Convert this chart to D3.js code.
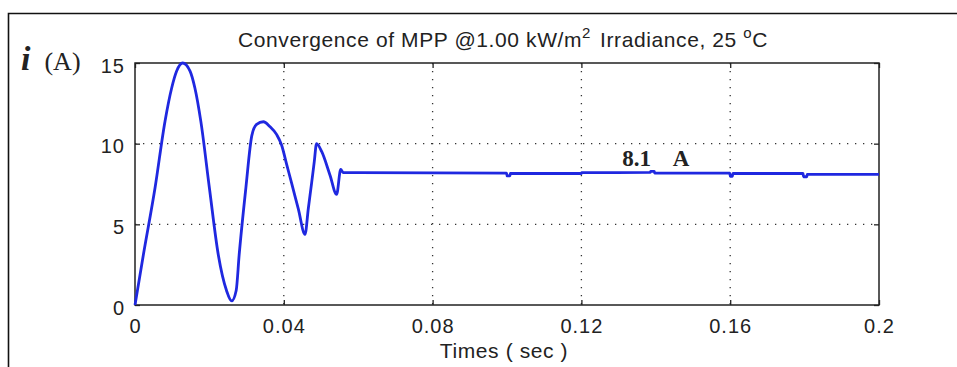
<!DOCTYPE html>
<html>
<head>
<meta charset="utf-8">
<script src="https://cdn.jsdelivr.net/npm/d3@7"></script>
<style>
  html, body { margin: 0; padding: 0; background: #fff; }
  svg { display: block; }
</style>
</head>
<body>
<div class="js-vis"></div>
<script>
// current response (seconds, amperes)
const time = [
  0, 0.00224, 0.00538, 0.00806, 0.00986, 0.0112, 0.0128, 0.0148, 0.0161, 0.0177,
  0.02, 0.0224, 0.0246, 0.026, 0.0272, 0.028, 0.0298, 0.0314, 0.0327, 0.0345,
  0.0363, 0.0381, 0.0394, 0.0408, 0.0421, 0.0439, 0.0457, 0.0466, 0.0475, 0.0482,
  0.0488, 0.0502, 0.0524, 0.0542, 0.0553, 0.056,
  0.06, 0.0999, 0.1, 0.1008, 0.1009, 0.12, 0.1201, 0.1385, 0.1386, 0.1396,
  0.1397, 0.1599, 0.16, 0.1606, 0.1607, 0.1796, 0.1797, 0.1806, 0.1807, 0.2
]
const current = [
  0, 3.1, 7.25, 11.38, 13.45, 14.5, 15.0, 14.5, 13.45, 11.38,
  7.25, 3.1, 0.9, 0.25, 0.9, 3.1, 7.25, 10.5, 11.2, 11.36,
  11.05, 10.56, 9.92, 8.69, 7.55, 5.96, 4.38, 6.0, 7.6, 8.9,
  10.0, 9.5, 8.06, 6.86, 8.4, 8.2,
  8.2, 8.18, 8.0, 8.0, 8.15, 8.15, 8.2, 8.22, 8.28, 8.28,
  8.18, 8.18, 7.98, 7.98, 8.15, 8.15, 7.95, 7.95, 8.1, 8.1
]

const xTicks = [0, 0.04, 0.08, 0.12, 0.16, 0.2],
    xTickLabels = ["0", "0.04", "0.08", "0.12", "0.16", "0.2"],
    yTicks = [0, 5, 10, 15]

const data = time.map((t, k) => [t, current[k]])

const ewidth = 957, eheight = 367
const margin = { top: 63, right: 78, bottom: 62, left: 135 },
    width = ewidth - margin.left - margin.right,
    height = eheight - margin.top - margin.bottom

const x = d3.scaleLinear().domain([0, 0.2]).range([0, width])
const y = d3.scaleLinear().domain([0, 15]).range([height, 0])

const svg = d3.select(".js-vis").append("svg")
  .attr("width", ewidth)
  .attr("height", eheight)

svg.append("rect")
  .attr("width", ewidth).attr("height", eheight)
  .attr("fill", "#fff")

// outer figure frame (only left and top edges are in view)
svg.append("path")
  .attr("d", "M8.5," + eheight + "V13.5H" + ewidth)
  .attr("fill", "none")
  .attr("stroke", "#111")
  .attr("stroke-width", 1.6)

const vis = svg.append("g")
  .attr("transform", "translate(" + margin.left + "," + margin.top + ")")

// dotted grid
vis.append("g")
  .selectAll("line")
  .data(xTicks.slice(1, -1))
.enter().append("line")
  .attr("x1", d => x(d)).attr("x2", d => x(d))
  .attr("y1", 0).attr("y2", height)
  .attr("stroke", "#333")
  .attr("stroke-width", 1.3)
  .attr("stroke-dasharray", "1.3,6.7")

vis.append("g")
  .selectAll("line")
  .data(yTicks.slice(1, -1))
.enter().append("line")
  .attr("x1", 0).attr("x2", width)
  .attr("y1", d => y(d)).attr("y2", d => y(d))
  .attr("stroke", "#333")
  .attr("stroke-width", 1.3)
  .attr("stroke-dasharray", "1.3,6.7")

// axes, MATLAB style with inward ticks on all four sides
const tickFont = (g) => g.selectAll("text")
  .attr("font-family", "Liberation Sans, Arial, sans-serif")
  .attr("font-size", 20)
  .attr("letter-spacing", 1)
  .attr("fill", "#222")

const plain = (g) => {
  g.select(".domain").remove()
  g.selectAll("line").attr("stroke", "#222").attr("stroke-width", 1.3)
}

vis.append("g")
  .attr("transform", "translate(0," + height + ")")
  .call(d3.axisBottom(x).tickValues(xTicks).tickFormat((d, k) => xTickLabels[k]).tickSizeInner(-5).tickPadding(14))
  .call(plain)
  .call(tickFont)

vis.append("g")
  .call(d3.axisTop(x).tickValues(xTicks).tickSizeInner(-5).tickFormat(""))
  .call(plain)

vis.append("g")
  .call(d3.axisLeft(y).tickValues(yTicks).tickSizeInner(-5).tickPadding(10))
  .call(plain)
  .call(tickFont)
  .call(g => g.selectAll("text").attr("dy", "0.45em"))

vis.append("g")
  .attr("transform", "translate(" + width + ",0)")
  .call(d3.axisRight(y).tickValues(yTicks).tickSizeInner(-5).tickFormat(""))
  .call(plain)

vis.append("rect")
  .attr("width", width).attr("height", height)
  .attr("fill", "none")
  .attr("stroke", "#222")
  .attr("stroke-width", 1.5)

// the trace
const line = d3.line()
  .x(d => x(d[0]))
  .y(d => y(d[1]))
  .curve(d3.curveMonotoneX)

vis.append("path")
  .datum(data)
  .attr("d", line)
  .attr("fill", "none")
  .attr("stroke", "#1f28e0")
  .attr("stroke-width", 2.8)
  .attr("stroke-linejoin", "round")

// annotation
vis.append("text")
  .attr("x", x(0.131)).attr("y", y(8.6))
  .attr("font-family", "Liberation Serif, Times New Roman, serif")
  .attr("font-weight", "bold")
  .attr("font-size", 23)
  .attr("fill", "#222")
  .attr("xml:space", "preserve")
  .text("8.1    A")

// title
const title = svg.append("text")
  .attr("x", 503).attr("y", 47)
  .attr("text-anchor", "middle")
  .attr("font-family", "Liberation Sans, Arial, sans-serif")
  .attr("font-size", 21)
  .attr("letter-spacing", 0.6)
  .attr("fill", "#222")
title.append("tspan").text("Convergence of MPP @1.00 kW/m")
title.append("tspan").attr("dy", -9).attr("font-size", 15).text("2")
title.append("tspan").attr("dy", 9).attr("dx", 9).text("Irradiance, 25 ")
title.append("tspan").attr("dy", -9).attr("font-size", 15).text("o")
title.append("tspan").attr("dy", 9).text("C")

// axis labels
svg.append("text")
  .attr("x", 504).attr("y", 358)
  .attr("text-anchor", "middle")
  .attr("font-family", "Liberation Sans, Arial, sans-serif")
  .attr("font-size", 21)
  .attr("letter-spacing", 0.6)
  .attr("fill", "#222")
  .text("Times ( sec )")

const ylab = svg.append("text")
  .attr("x", 21).attr("y", 70)
  .attr("font-family", "Liberation Serif, Times New Roman, serif")
  .attr("fill", "#222")
ylab.append("tspan").attr("font-style", "italic").attr("font-weight", "bold").attr("font-size", 34).text("i")
ylab.append("tspan").attr("dx", 14).attr("font-size", 26).text("(A)")
</script>
</body>
</html>
